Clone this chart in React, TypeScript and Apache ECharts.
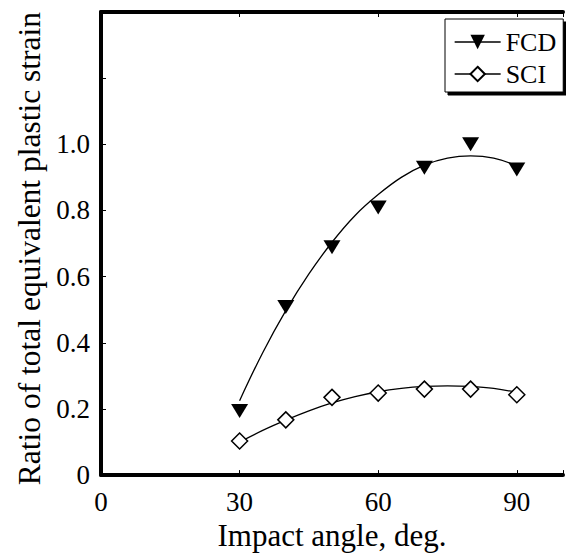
import React, { useEffect, useRef } from "react";
import * as echarts from "echarts";

// Measured markers
const angles = [30, 40, 50, 60, 70, 80, 90];
const fcdValues = [0.194, 0.508, 0.689, 0.809, 0.929, 1.0, 0.924];
const sciValues = [0.103, 0.167, 0.235, 0.248, 0.26, 0.26, 0.243];

// Fitted curves
const fitAngles = [30, 35, 40, 45, 50, 55, 60, 65, 70, 75, 80, 85, 90];
const fcdFit = [0.225, 0.37, 0.497, 0.608, 0.704, 0.785, 0.848, 0.9, 0.937, 0.958, 0.965, 0.958, 0.935];
const sciFit = [0.1, 0.135, 0.166, 0.194, 0.218, 0.237, 0.252, 0.262, 0.268, 0.27, 0.268, 0.262, 0.25];

const xTicks = [0, 30, 60, 90];
const yTickLabels = ["0", "0.2", "0.4", "0.6", "0.8", "1.0"];

const FONT = "'Liberation Serif', 'Times New Roman', serif";

export default function App() {
  const ref = useRef<HTMLDivElement>(null);
  useEffect(() => {
    if (!ref.current) return;
    const chart = echarts.init(ref.current, undefined, { renderer: "svg" });
    const pairs = (xs: number[], ys: number[]) => xs.map((x, i) => [x, ys[i]]);
    const axisCommon = {
      type: "value" as const,
      min: 0,
      max: 100,
      interval: 30,
      splitLine: { show: false },
      axisLine: { show: true, onZero: false, lineStyle: { color: "#000", width: 4 } },
      axisTick: { show: true, inside: true, length: 5, lineStyle: { color: "#000", width: 1 } },
    };
    chart.setOption({
      animation: false,
      backgroundColor: "#fff",
      grid: { left: 101, top: 12, width: 476, height: 474 },
      legend: {
        data: ["FCD", "SCI"],
        orient: "vertical",
        left: 445,
        top: 19,
        padding: [10, 7, 5, 9],
        itemWidth: 46,
        itemHeight: 18,
        itemGap: 6,
        backgroundColor: "#fff",
        borderColor: "#000",
        borderWidth: 1,
        borderRadius: 0,
        shadowColor: "#000",
        shadowBlur: 0,
        shadowOffsetX: 3,
        shadowOffsetY: 3,
        lineStyle: { color: "#000", width: 1.3, opacity: 1 },
        textStyle: { fontFamily: FONT, fontSize: 26, color: "#000", lineHeight: 26 },
      },
      xAxis: [
        {
          ...axisCommon,
          position: "bottom",
          name: "Impact angle, deg.",
          nameLocation: "middle",
          nameGap: 37,
          nameTextStyle: { fontFamily: FONT, fontSize: 31, color: "#000" },
          axisLabel: {
            fontFamily: FONT,
            fontSize: 27,
            color: "#000",
            margin: 13,
            formatter: (v: number) => (xTicks.includes(v) ? String(v) : ""),
          },
        },
        {
          ...axisCommon,
          position: "top",
          axisLabel: { show: false },
        },
      ],
      yAxis: {
        type: "value",
        min: 0,
        max: 1.4,
        interval: 0.2,
        splitLine: { show: false },
        axisLine: { show: true, onZero: false, lineStyle: { color: "#000", width: 4 } },
        axisTick: { show: true, inside: true, length: 5, lineStyle: { color: "#000", width: 1 } },
        name: "Ratio of total equivalent plastic strain",
        nameLocation: "middle",
        nameGap: 53,
        nameTextStyle: { fontFamily: FONT, fontSize: 31.5, color: "#000", padding: [0, 10, 0, 0] },
        axisLabel: {
          fontFamily: FONT,
          fontSize: 27,
          color: "#000",
          margin: 11,
          formatter: (v: number) => {
            const i = Math.round(v / 0.2);
            return i < yTickLabels.length ? yTickLabels[i] : "";
          },
        },
      },
      series: [
        {
          name: "FCD fit",
          type: "line",
          data: pairs(fitAngles, fcdFit),
          smooth: 0.4,
          showSymbol: false,
          symbol: "none",
          lineStyle: { color: "#000", width: 1.3 },
          z: 2,
        },
        {
          name: "SCI fit",
          type: "line",
          data: pairs(fitAngles, sciFit),
          smooth: 0.4,
          showSymbol: false,
          symbol: "none",
          lineStyle: { color: "#000", width: 1.3 },
          z: 2,
        },
        {
          name: "FCD",
          type: "line",
          data: pairs(angles, fcdValues),
          symbol: "triangle",
          symbolRotate: 180,
          symbolSize: [17, 14],
          showSymbol: true,
          itemStyle: { color: "#000" },
          lineStyle: { color: "#000", width: 1.3, opacity: 0 },
          z: 3,
        },
        {
          name: "SCI",
          type: "line",
          data: pairs(angles, sciValues),
          symbol: "diamond",
          symbolSize: 16,
          showSymbol: true,
          itemStyle: { color: "#fff", borderColor: "#000", borderWidth: 1.5 },
          lineStyle: { color: "#000", width: 1.3, opacity: 0 },
          z: 3,
        },
      ],
    });
    return () => chart.dispose();
  }, []);
  return (
    <div
      ref={ref}
      style={{ position: "fixed", left: 0, top: 0, width: 566, height: 556, background: "#fff" }}
    />
  );
}
